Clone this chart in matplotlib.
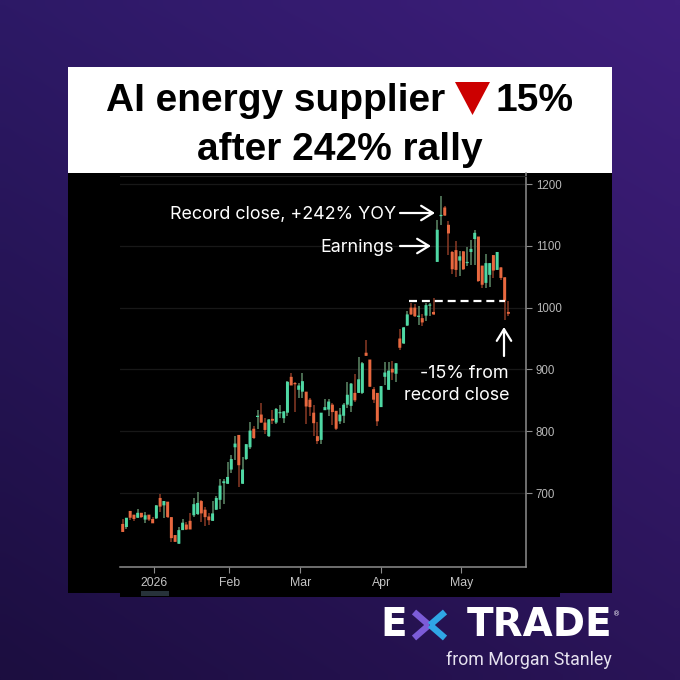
import numpy as np
import matplotlib
matplotlib.use("Agg")
import matplotlib.pyplot as plt
from matplotlib.patches import Rectangle, Polygon

# ---- data (prices) ----
opens = [650,645,671,665,660,668,657,665,658,659,692,680,686,661,632,618,640,649,655,664,666,687,673,662,655,673,
         689,716,715,738,774,794,715,755,774,804,823,827,814,792,820,814,829,821,830,888,878,867,864,864,851,830,
         792,786,834,835,843,833,816,825,843,841,862,862,862,927,916,868,862,839,888,867,901,893,950,942,971,1000,
         1000,985,983,987,1003,993,1074,1148,1162,1134,1090,1093,1076,1091,1072,1090,1111,1115,1068,1040,1053,1085,
         1061,1065,1049,993]
highs = [658,660,671,665,674,668,670,665,662,680,698,687,686,661,632,645,658,653,667,692,701,688,678,668,687,695,
         722,723,751,762,792,794,758,779,815,808,834,845,821,819,834,838,842,832,881,895,879,878,894,864,854,843,
         815,830,852,852,845,833,838,845,879,878,892,920,912,948,916,872,862,873,912,912,913,910,965,969,994,1008,
         1006,1003,989,1008,1008,1016,1141,1181,1164,1140,1091,1107,1092,1091,1098,1110,1125,1115,1068,1086,1072,1085,
         1090,1065,1049,1010]
lows = [637,641,657,654,659,660,651,655,651,658,670,660,660,620,621,617,640,640,641,662,664,653,646,649,655,672,
        674,682,715,733,754,709,714,753,772,788,804,813,796,791,811,811,821,813,825,874,831,854,854,812,825,792,
        780,780,834,824,810,802,811,813,838,831,848,862,861,922,871,846,808,839,875,867,883,879,931,941,970,988,
        985,972,970,978,987,988,1074,1134,1148,1085,1054,1050,1051,1061,1068,1069,1069,1041,1031,1032,1034,1048,
        1061,1045,980,986]
closes = [637,660,660,658,668,661,664,657,651,680,678,687,661,627,621,640,652,641,641,682,684,667,661,656,667,692,
          712,719,726,755,780,745,738,779,801,789,824,814,802,819,817,836,831,832,880,874,876,874,881,840,839,813,
          784,830,839,848,831,804,827,843,859,877,850,884,910,922,872,851,816,873,895,898,895,910,935,968,989,989,
          986,987,976,1004,1004,989,1126,1150,1149,1120,1062,1061,1083,1062,1074,1095,1121,1043,1037,1072,1072,1060,
          1090,1048,1011,990]
y_ticks = [700, 800, 900, 1000, 1100, 1200]
x_tick_pos = [8.4, 28.45, 47.4, 69.0, 90.4]
x_tick_labels = ["2026", "Feb", "Mar", "Apr", "May"]
record_level = 1011

W = 680
fig = plt.figure(figsize=(6.8, 6.8), dpi=100)

def px_axes(z):
    a = fig.add_axes([0, 0, 1, 1], zorder=z)
    a.set_xlim(0, W); a.set_ylim(W, 0); a.axis("off")
    a.patch.set_alpha(0)
    return a

# ---- background ----
bg = px_axes(0)
tl, tr = np.array([0x2d, 0x19, 0x66]), np.array([0x3e, 0x1e, 0x7c])
bl, br = np.array([0x1c, 0x0e, 0x40]), np.array([0x2a, 0x14, 0x58])
u, v = np.meshgrid(np.linspace(0, 1, 64), np.linspace(0, 1, 64))
grad = ((1-v)[..., None]*((1-u)[..., None]*tl + u[..., None]*tr)
        + v[..., None]*((1-u)[..., None]*bl + u[..., None]*br)) / 255
bg.imshow(grad, extent=(0, W, W, 0), aspect="auto", interpolation="bilinear")
bg.set_xlim(0, W); bg.set_ylim(W, 0)
bg.add_patch(Rectangle((68, 173), 544, 420, fc="black", ec="none"))
bg.add_patch(Rectangle((120, 593), 440, 4, fc="black", ec="none"))
bg.add_patch(Rectangle((141, 591), 28, 5, fc="#27323a", ec="none"))
bg.add_patch(Rectangle((68, 67), 544, 106, fc="white", ec="none"))

# ---- chart ----
L, R, T, B = 120, 526, 173, 567
ax = fig.add_axes([L/W, 1-B/W, (R-L)/W, (B-T)/W], zorder=1)
ax.patch.set_alpha(0)
ax.set_xlim(-0.72, 107.7)
ax.set_ylim(580.3, 1217.8)
o, h, l, c = map(np.array, (opens, highs, lows, closes))
x = np.arange(len(o))
up = c >= o
ax.vlines(x[up], l[up], h[up], color="#5f8a68", lw=1.1, zorder=3)
ax.vlines(x[~up], l[~up], h[~up], color="#8a3a25", lw=1.1, zorder=3)
for b in ax.bar(x[up], np.maximum(c-o, 2)[up], bottom=o[up], width=0.8, color="#4fd8a4", lw=0, zorder=4):
    b.set_snap(False)
for b in ax.bar(x[~up], np.maximum(o-c, 2)[~up], bottom=c[~up], width=0.8, color="#e8683f", lw=0, zorder=4):
    b.set_snap(False)
ax.hlines(record_level, 76.5, 102, color="white", lw=1.6, linestyles=(0, (3.6, 2.2)), zorder=5)

for s in ("top", "left"):
    ax.spines[s].set_visible(False)
for s in ("right", "bottom"):
    ax.spines[s].set_color("#8c8c8c"); ax.spines[s].set_linewidth(1.1)
ax.yaxis.tick_right()
ax.set_yticks(y_ticks)
ax.set_xticks(x_tick_pos, x_tick_labels)
ax.tick_params(axis="y", length=4, width=0.8, color="#8c8c8c", labelcolor="#b8b8b8", labelsize=8.3, pad=3)
ax.tick_params(axis="x", length=4, width=0.8, color="#8c8c8c", labelcolor="#c4c4c4", labelsize=8.8, pad=3)
for t in ax.get_xticklabels() + ax.get_yticklabels():
    t.set_family("Liberation Sans")
ax.grid(axis="y", color="#181818", lw=0.9)
ax.set_axisbelow(True)

# ---- overlay ----
ov = px_axes(2)
title_kw = dict(family="Liberation Sans", weight="bold", color="black", va="center", fontsize=28)
ov.text(106, 101, "AI energy supplier", ha="left", **title_kw)
ov.text(574, 101, "15%", ha="right", **title_kw)
ov.text(340, 150, "after 242% rally", ha="center", **title_kw)
ov.add_patch(Polygon([(455, 82), (490, 82), (472.5, 115)], fc="#cc0000", ec="none"))
ov.plot([120, 526], [176, 176], color="#262626", lw=0.8)

note = dict(family="Inter", color="white", va="center", fontsize=12.9)
ov.text(396, 215, "Record close, +242% YOY", ha="right", **note)
ov.text(394, 247, "Earnings", ha="right", **note)
ov.text(509, 373, "-15% from", ha="right", **note)
ov.text(509, 395, "record close", ha="right", **note)
arrow = dict(arrowstyle="->,head_length=0.65,head_width=0.4", color="white", lw=1.6, shrinkA=0, shrinkB=0, mutation_scale=13)
ov.annotate("", xy=(435, 213), xytext=(400, 213), arrowprops=arrow)
ov.annotate("", xy=(431, 246), xytext=(400, 246), arrowprops=arrow)
ov.annotate("", xy=(504, 327), xytext=(504, 356), arrowprops=arrow)

# ---- logo ----
logo = dict(family="DejaVu Sans", weight="bold", color="white", va="center", fontsize=28)
ov.text(380, 625, "E", ha="left", **logo)
ov.text(612, 625, "TRADE", ha="right", **logo)
ov.text(613, 614, "®", ha="left", va="center", color="white", fontsize=5)
ov.plot([414, 429], [612, 625], color="#7c5cd8", lw=4.6, solid_capstyle="butt")
ov.plot([414, 429], [638, 625], color="#7c5cd8", lw=4.6, solid_capstyle="butt")
ov.plot([445, 430], [612, 625], color="#2fa6e6", lw=4.6, solid_capstyle="butt")
ov.plot([445, 430], [638, 625], color="#2fa6e6", lw=4.6, solid_capstyle="butt")
ov.text(612, 660, "from Morgan Stanley", ha="right", va="center", family="Roboto", color="#e6e2ef", fontsize=12.8)

fig.savefig("out.png", dpi=100)
